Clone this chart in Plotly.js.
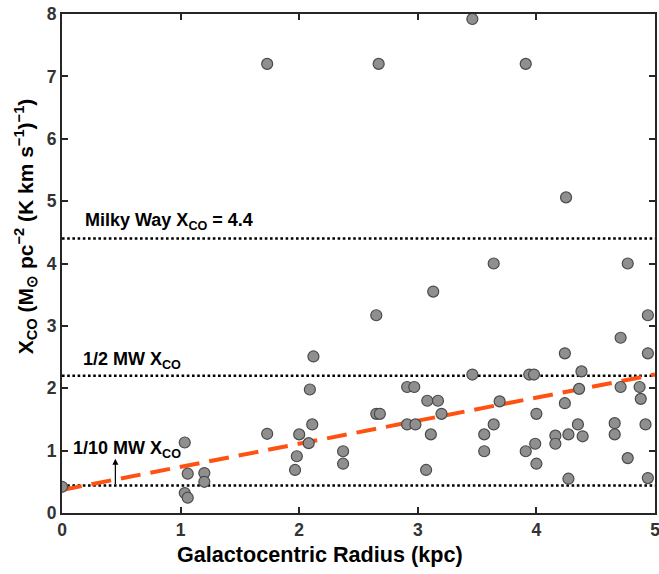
<!DOCTYPE html>
<html>
<head>
<meta charset="utf-8">
<script src="https://cdn.plot.ly/plotly-3.0.1.min.js"></script>
<style>html,body{margin:0;padding:0;background:#fff}#chart{width:659px;height:574px}</style>
</head>
<body>
<div id="chart"></div>
<script>
// Data
const radius = [1.73, 2.67, 3.46, 3.91, 4.25, 3.64, 4.77, 3.13, 2.65, 4.94,
  4.71, 4.24, 4.94, 3.46, 3.94, 3.98, 4.38, 2.91, 2.97, 4.36,
  4.71, 4.87, 4.88, 3.08, 3.17, 3.69, 4.24, 2.65, 2.68, 3.20,
  4.00, 2.91, 2.98, 3.64, 4.35, 4.66, 4.92, 3.11, 3.56, 4.16,
  4.27, 4.39, 4.66, 4.16, 3.99, 2.37, 2.37, 3.56, 3.91, 4.00,
  4.77, 3.07, 4.27, 4.94, 1.035, 1.06, 1.035, 1.06, 1.20, 1.20,
  1.73, 1.98, 1.965, 2.00, 2.09, 2.12, 2.11, 2.08, 0.0];
const xco = [7.20, 7.20, 7.92, 7.20, 5.06, 4.00, 4.00, 3.55, 3.17, 3.17,
  2.81, 2.56, 2.56, 2.22, 2.22, 2.22, 2.27, 2.02, 2.02, 1.99,
  2.02, 2.02, 1.83, 1.80, 1.80, 1.79, 1.76, 1.59, 1.59, 1.59,
  1.59, 1.42, 1.42, 1.42, 1.42, 1.44, 1.42, 1.26, 1.26, 1.24,
  1.26, 1.23, 1.26, 1.11, 1.11, 0.99, 0.79, 0.99, 0.99, 0.79,
  0.88, 0.69, 0.55, 0.56, 1.13, 0.63, 0.32, 0.245, 0.64, 0.50,
  1.27, 0.91, 0.69, 1.26, 1.98, 2.51, 1.42, 1.12, 0.42];
const refX = [0, 5];
const mwXco = [4.4, 4.4];
const halfMwXco = [2.2, 2.2];
const tenthMwXco = [0.44, 0.44];
const fitX = [0, 5];
const fitY = [0.37, 2.22];
const xTicks = [0, 1, 2, 3, 4, 5];
const yTicks = [0, 1, 2, 3, 4, 5, 6, 7, 8];

const dotLine = {color: '#000', width: 2.6, dash: '2.6px,2.6px'};
const traces = [
  {x: refX, y: mwXco, mode: 'lines', line: dotLine, hoverinfo: 'skip'},
  {x: refX, y: halfMwXco, mode: 'lines', line: dotLine, hoverinfo: 'skip'},
  {x: refX, y: tenthMwXco, mode: 'lines', line: dotLine, hoverinfo: 'skip'},
  {x: fitX, y: fitY, mode: 'lines', line: {color: '#FF5212', width: 4, dash: '20px,10px'}},
  {x: radius, y: xco, mode: 'markers',
   marker: {size: 11, color: '#8f8f8f', line: {color: '#4a4a4a', width: 1.2}}}
];

const font = 'Liberation Sans, Arial, Helvetica, sans-serif';
const axisCommon = {
  showline: true, linecolor: '#262626', linewidth: 2, mirror: 'ticks',
  ticks: 'inside', ticklen: 6, tickwidth: 2, tickcolor: '#262626',
  showgrid: false, zeroline: false, ticklabeloverflow: 'allow',
  tickfont: {family: font, size: 17.5, color: '#333', weight: 'bold'}
};
const layout = {
  width: 659, height: 574,
  margin: {l: 62, r: 4, t: 14, b: 61},
  paper_bgcolor: '#fff', plot_bgcolor: '#fff',
  showlegend: false,
  xaxis: Object.assign({}, axisCommon, {
    range: [0, 5], tickvals: xTicks, ticktext: xTicks.map(String)
  }),
  yaxis: Object.assign({}, axisCommon, {
    range: [0, 8], tickvals: yTicks, ticktext: yTicks.map(String)
  }),
  annotations: [
    {xref: 'paper', yref: 'paper', x: 0.435, y: -0.083, xanchor: 'center', yanchor: 'middle',
     showarrow: false, text: '<b>Galactocentric Radius (kpc)</b>',
     font: {family: font, size: 21.6, color: '#000'}},
    {xref: 'paper', yref: 'paper', x: -0.062, y: 0.575, xanchor: 'center', yanchor: 'middle',
     textangle: -90, showarrow: false,
     text: '<b>X<sub>CO</sub> (M<sub>⊙</sub> pc<sup>−2</sup> (K km s<sup>−1</sup>)<sup>−1</sup>)</b>',
     font: {family: font, size: 21, color: '#000'}},
    {xref: 'x', yref: 'y', x: 0.181, y: 4.68, xanchor: 'left', yanchor: 'middle', showarrow: false,
     text: '<b>Milky Way X<sub>CO</sub> = 4.4</b>', font: {family: font, size: 18, color: '#000'}},
    {xref: 'x', yref: 'y', x: 0.164, y: 2.45, xanchor: 'left', yanchor: 'middle', showarrow: false,
     text: '<b>1/2 MW X<sub>CO</sub></b>', font: {family: font, size: 18, color: '#000'}},
    {xref: 'x', yref: 'y', x: 0.08, y: 1.02, xanchor: 'left', yanchor: 'middle', showarrow: false,
     text: '<b>1/10 MW X<sub>CO</sub></b>', font: {family: font, size: 18, color: '#000'}},
    {xref: 'x', yref: 'y', x: 0.45, y: 0.87, axref: 'x', ayref: 'y', ax: 0.45, ay: 0.44,
     text: '', showarrow: true, arrowhead: 2, arrowsize: 1, arrowwidth: 1.2, arrowcolor: '#000', standoff: 0}
  ]
};
Plotly.newPlot('chart', traces, layout, {displayModeBar: false, staticPlot: true});
</script>
</body>
</html>
